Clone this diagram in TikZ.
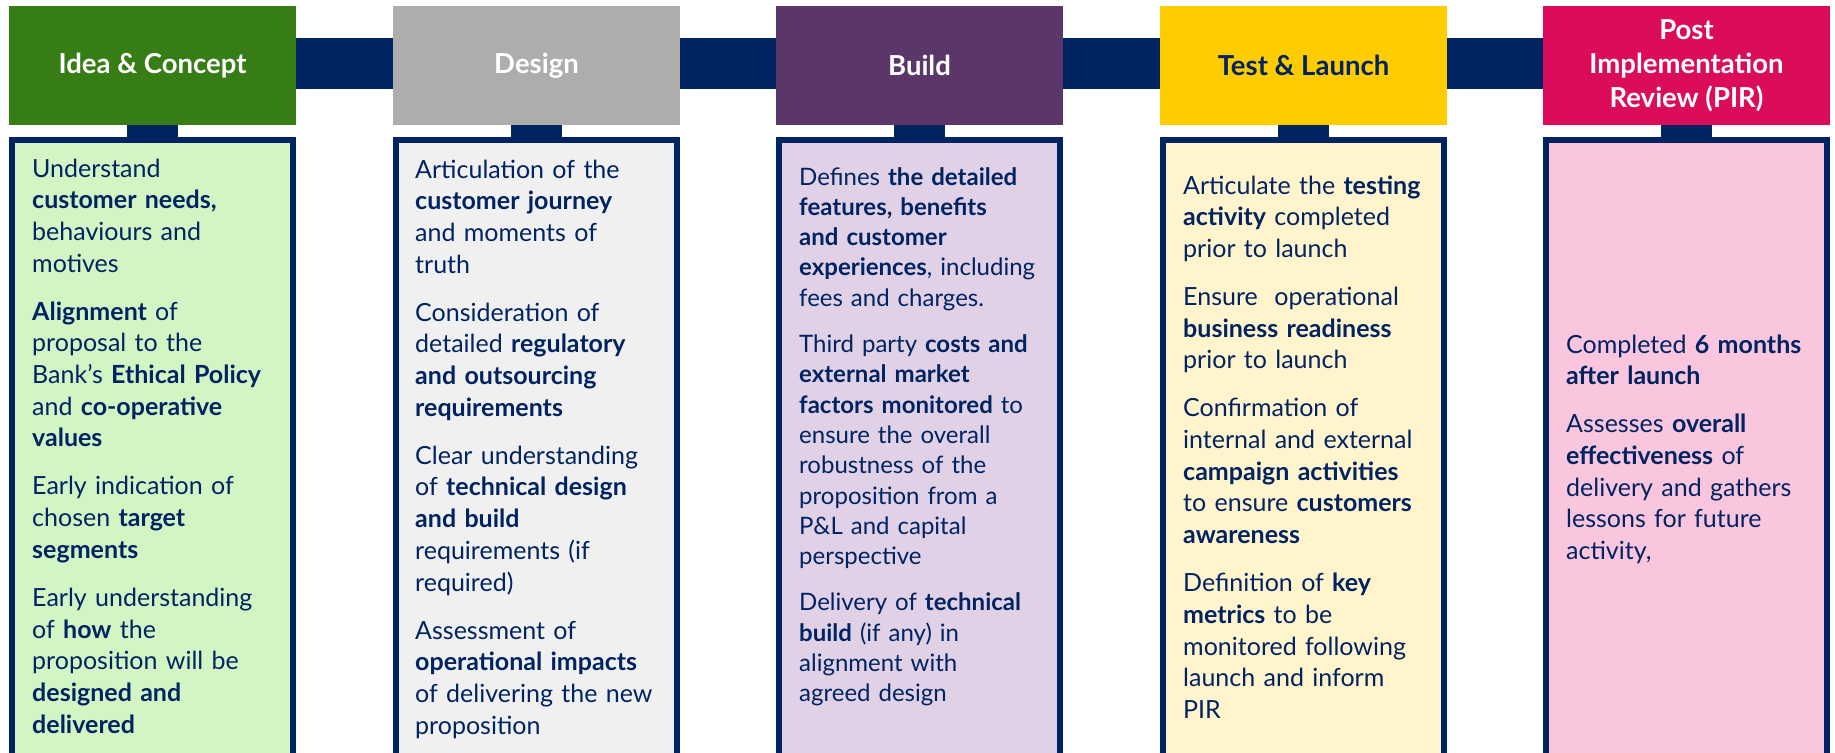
\documentclass[tikz,border=0pt]{standalone}
\usepackage{fontspec}
\setmainfont{Lato}
\usetikzlibrary{backgrounds}
\definecolor{navy}{RGB}{0,35,98}
\definecolor{ideagreen}{RGB}{55,125,22}
\definecolor{idealight}{RGB}{211,245,196}
\definecolor{designgray}{RGB}{174,173,171}
\definecolor{designlight}{RGB}{240,240,240}
\definecolor{buildpurple}{RGB}{90,55,104}
\definecolor{buildlight}{RGB}{224,209,231}
\definecolor{testyellow}{RGB}{255,204,0}
\definecolor{testlight}{RGB}{255,244,204}
\definecolor{pircrimson}{RGB}{219,12,90}
\definecolor{pirlight}{RGB}{249,198,221}
\begin{document}
\begin{tikzpicture}[x=1pt,y=-1pt,
  hdr/.style={rectangle, minimum width=287pt, minimum height=119pt, inner sep=0pt,
    font=\fontsize{27.5}{34}\selectfont\bfseries, text=white, align=center},
  cbox/.style={rectangle, draw=navy, line width=6pt, minimum width=281pt, minimum height=627pt, inner sep=0pt},
  ctext/.style={anchor=base west, text width=262pt, align=left, inner sep=0pt,
    font=\fontsize{25}{31.7}\selectfont, text=navy},
  band/.style={draw=navy, line width=51pt},
  stem/.style={draw=navy, line width=51pt}]
\useasboundingbox (0,0) rectangle (1835,752);
\clip (0,0) rectangle (1835,752);

% headers
\node[hdr, fill=ideagreen] (h1) at (152.5,65.5) {Idea \& Concept};
\node[hdr, fill=designgray] (h2) at (536.5,65.5) {Design};
\node[hdr, fill=buildpurple] (h3) at (919.5,65.5) {Build};
\node[hdr, fill=testyellow, text=navy] (h4) at (1303.5,65.5) {Test \& Launch};
\node[hdr, fill=pircrimson] (h5) at (1686.5,65.5) {Post\\Implementation\\Review (PIR)};

% content boxes
\node[cbox, fill=idealight] (c1) at (152.5,453.5) {};
\node[cbox, fill=designlight] (c2) at (536.5,453.5) {};
\node[cbox, fill=buildlight] (c3) at (919.5,453.5) {};
\node[cbox, fill=testlight] (c4) at (1303.5,453.5) {};
\node[cbox, fill=pirlight] (c5) at (1686.5,453.5) {};

\begin{scope}[on background layer]
\fill[white] (0,0) rectangle (1835,752);
\draw[band] ([yshift=2pt]h1.center) -- ([yshift=2pt]h5.center);
\end{scope}

\draw[stem] (h1.south) -- (c1.north);
\draw[stem] (h2.south) -- (c2.north);
\draw[stem] (h3.south) -- (c3.north);
\draw[stem] (h4.south) -- (c4.north);
\draw[stem] (h5.south) -- (c5.north);

% texts
\node[ctext] (t1) at (32,177) {Understand\\
\textbf{customer needs,}\\
behaviours and\\
motives\\[16.3pt]
\textbf{Alignment} of\\
proposal to the\\
Bank’s \textbf{Ethical Policy}\\
and \textbf{co-operative}\\
\textbf{values}\\[16.3pt]
Early indication of\\
chosen \textbf{target}\\
\textbf{segments}\\[16.3pt]
Early understanding\\
of \textbf{how} the\\
proposition will be\\
\textbf{designed and}\\
\textbf{delivered}};

\node[ctext] (t2) at (415,178) {Articulation of the\\
\textbf{customer journey}\\
and moments of\\
truth\\[16.3pt]
Consideration of\\
detailed \textbf{regulatory}\\
\textbf{and outsourcing}\\
\textbf{requirements}\\[16.3pt]
Clear understanding\\
of \textbf{technical design}\\
\textbf{and build}\\
requirements (if\\
required)\\[16.3pt]
Assessment of\\
\textbf{operational impacts}\\
of delivering the new\\
proposition};

\node[ctext, font=\fontsize{24}{30.3}\selectfont] (t3) at (799,185) {Defines \textbf{the detailed}\\
\textbf{features, benefits}\\
\textbf{and customer}\\
\textbf{experiences}, including\\
fees and charges.\\[16pt]
Third party \textbf{costs and}\\
\textbf{external market}\\
\textbf{factors monitored} to\\
ensure the overall\\
robustness of the\\
proposition from a\\
P\&L and capital\\
perspective\\[16pt]
Delivery of \textbf{technical}\\
\textbf{build} (if any) in\\
alignment with\\
agreed design};

\node[ctext] (t4) at (1183,194) {Articulate the \textbf{testing}\\
\textbf{activity} completed\\
prior to launch\\[16.3pt]
Ensure\ \ operational\\
\textbf{business readiness}\\
prior to launch\\[16.3pt]
Confirmation of\\
internal and external\\
\textbf{campaign activities}\\
to ensure \textbf{customers}\\
\textbf{awareness}\\[16.3pt]
Definition of \textbf{key}\\
\textbf{metrics} to be\\
monitored following\\
launch and inform\\
PIR};

\node[ctext] (t5) at (1566,353) {Completed \textbf{6 months}\\
\textbf{after launch}\\[16.3pt]
Assesses \textbf{overall}\\
\textbf{effectiveness} of\\
delivery and gathers\\
lessons for future\\
activity,};
\end{tikzpicture}
\end{document}
